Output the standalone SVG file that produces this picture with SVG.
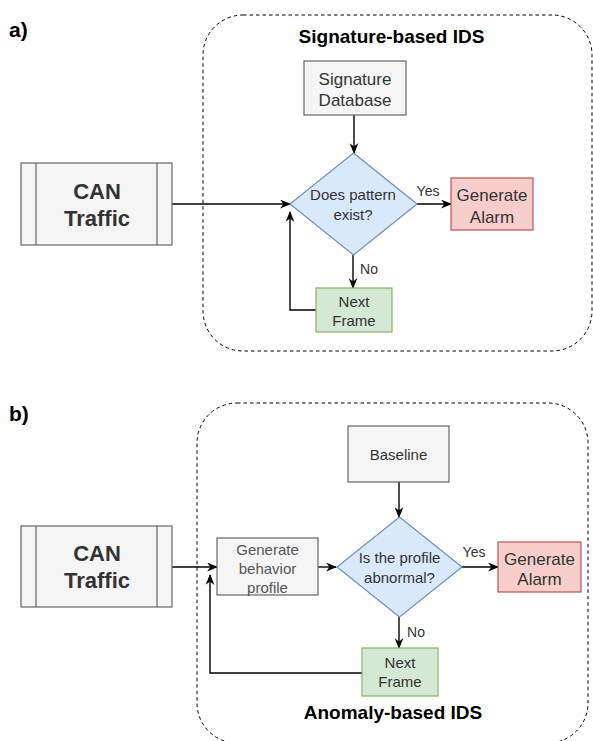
<svg xmlns="http://www.w3.org/2000/svg" width="593" height="741" viewBox="0 0 593 741">
<style>
text{font-family:"Liberation Sans",Arial,sans-serif;text-anchor:middle}
.lbl{font-size:21px;font-weight:bold;text-anchor:start;fill:#000}
.title{font-weight:bold;fill:#000}
.grp{fill:none;stroke:#000;stroke-width:1;stroke-dasharray:3.5 3}
.gray{fill:#f5f5f5;stroke:#666;stroke-width:1.2}
.dia{fill:#dae8fc;stroke:#6c8ebf;stroke-width:1.2}
.red{fill:#f8cecc;stroke:#b85450;stroke-width:1.2}
.grn{fill:#d5e8d4;stroke:#82b366;stroke-width:1.2}
.t{fill:#333}
.can{font-size:22px;font-weight:bold;fill:#333}
.edge{fill:none;stroke:#000;stroke-width:1.4}
.elab{font-size:14px;fill:#333}
</style>
<defs>
<marker id="ah" viewBox="0 0 10 8" refX="9" refY="4" markerWidth="11" markerHeight="9" markerUnits="userSpaceOnUse" orient="auto">
<path d="M0,0 L10,4 L0,8 L3,4 Z" fill="#000"/>
</marker>
</defs>
<text class="lbl" x="9" y="37">a)</text>
<text class="lbl" x="9" y="421">b)</text>

<g id="groupA">
<rect class="grp" x="203" y="15" width="389" height="336" rx="40" ry="40"/>
<text class="title" x="391.5" y="43" font-size="19">Signature-based IDS</text>
</g>
<g id="groupB">
<rect class="grp" x="197" y="403" width="391" height="340" rx="40" ry="40"/>
<text class="title" x="393" y="719" font-size="19">Anomaly-based IDS</text>
</g>

<g id="connectors">
<path class="edge" d="M172,204 L290,204" marker-end="url(#ah)"/>
<path class="edge" d="M354,115 L354,153" marker-end="url(#ah)"/>
<path class="edge" d="M417,204 L451,204" marker-end="url(#ah)"/>
<path class="edge" d="M353,255 L353,288" marker-end="url(#ah)"/>
<path class="edge" d="M316,310 L290,310 L290,212" marker-end="url(#ah)"/>
<text class="elab" x="428" y="196">Yes</text>
<text class="elab" x="369" y="274">No</text>

<path class="edge" d="M172,567 L217,567" marker-end="url(#ah)"/>
<path class="edge" d="M318,567 L336,567" marker-end="url(#ah)"/>
<path class="edge" d="M399,482 L399,517" marker-end="url(#ah)"/>
<path class="edge" d="M462,567 L498,567" marker-end="url(#ah)"/>
<path class="edge" d="M399,617 L399,648" marker-end="url(#ah)"/>
<path class="edge" d="M362,673 L210,673 L210,575" marker-end="url(#ah)"/>
<text class="elab" x="474" y="557">Yes</text>
<text class="elab" x="416" y="637">No</text>
</g>

<g id="canA">
<rect class="gray" x="21" y="163" width="151" height="82"/>
<line x1="36" y1="163" x2="36" y2="245" stroke="#666" stroke-width="1.2"/>
<line x1="157" y1="163" x2="157" y2="245" stroke="#666" stroke-width="1.2"/>
<text class="can" x="97" y="199">CAN</text>
<text class="can" x="97" y="226">Traffic</text>
</g>
<g id="sigdb">
<rect class="gray" x="304" y="61" width="102" height="54"/>
<text class="t" x="355" y="85" font-size="17">Signature</text>
<text class="t" x="355" y="106" font-size="17">Database</text>
</g>
<g id="diamondA">
<polygon class="dia" points="353.5,153 417,204 353.5,255 290,204"/>
<text class="t" x="353" y="200" font-size="15">Does pattern</text>
<text class="t" x="353" y="220" font-size="15">exist?</text>
</g>
<g id="alarmA">
<rect class="red" x="451" y="178" width="82" height="52"/>
<text class="t" x="492" y="201" font-size="17">Generate</text>
<text class="t" x="492" y="223" font-size="17">Alarm</text>
</g>
<g id="nextA">
<rect class="grn" x="316" y="288" width="76" height="44"/>
<text class="t" x="354" y="307" font-size="15">Next</text>
<text class="t" x="354" y="326" font-size="15">Frame</text>
</g>

<g id="canB">
<rect class="gray" x="21" y="526" width="151" height="81"/>
<line x1="36" y1="526" x2="36" y2="607" stroke="#666" stroke-width="1.2"/>
<line x1="157" y1="526" x2="157" y2="607" stroke="#666" stroke-width="1.2"/>
<text class="can" x="97" y="561">CAN</text>
<text class="can" x="97" y="588">Traffic</text>
</g>
<g id="behavior">
<rect class="gray" x="217" y="538" width="101" height="57"/>
<text x="267.5" y="555" font-size="15" fill="#555">Generate</text>
<text x="267.5" y="574" font-size="15" fill="#555">behavior</text>
<text x="267.5" y="593" font-size="15" fill="#555">profile</text>
</g>
<g id="baseline">
<rect class="gray" x="348" y="426" width="101" height="56"/>
<text class="t" x="398.5" y="460" font-size="15">Baseline</text>
</g>
<g id="diamondB">
<polygon class="dia" points="399.5,517 462,567 399.5,617 337,567"/>
<text class="t" x="399.5" y="563" font-size="15">Is the profile</text>
<text class="t" x="399.5" y="583" font-size="15">abnormal?</text>
</g>
<g id="alarmB">
<rect class="red" x="498" y="542" width="83" height="50"/>
<text class="t" x="539.5" y="565" font-size="17">Generate</text>
<text class="t" x="539.5" y="585" font-size="17">Alarm</text>
</g>
<g id="nextB">
<rect class="grn" x="362" y="648" width="76" height="48"/>
<text class="t" x="400" y="668" font-size="15">Next</text>
<text class="t" x="400" y="687" font-size="15">Frame</text>
</g>
</svg>
